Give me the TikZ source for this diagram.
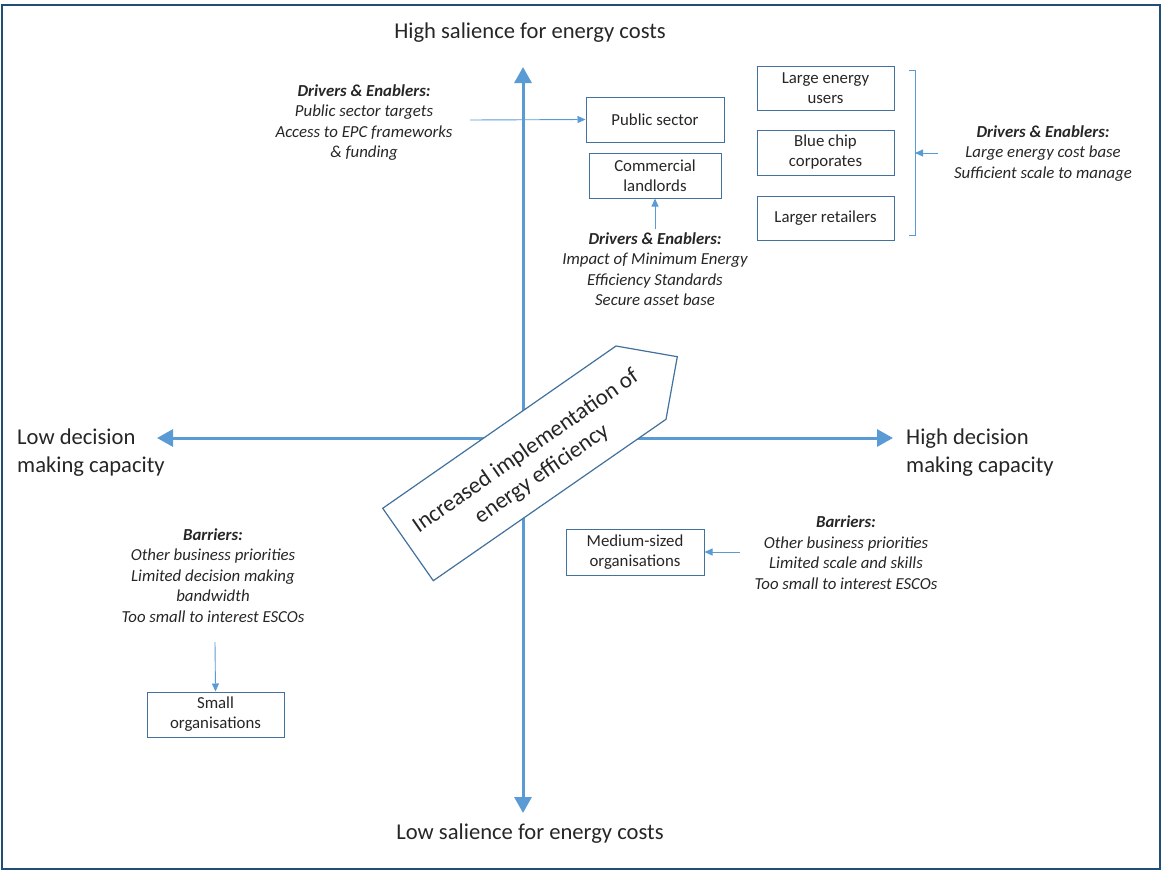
\documentclass[tikz,border=0pt]{standalone}
\usepackage{fontspec}
\setmainfont{Carlito}
\usetikzlibrary{arrows.meta}
\definecolor{axisblue}{HTML}{5B9BD5}
\definecolor{boxblue}{HTML}{41719C}
\definecolor{framecol}{HTML}{1F4E79}
\definecolor{txt}{HTML}{262626}
\begin{document}
\begin{tikzpicture}[x=1pt,y=-1pt,
 box/.style={draw=boxblue, line width=1pt, fill=white, align=center, inner sep=0pt, font=\fontsize{16.8}{20}\selectfont, text=txt},
 axislbl/.style={font=\fontsize{22.6}{28}\selectfont, text=txt, inner sep=0pt},
 note/.style={align=center, font=\fontsize{16.8}{20.5}\selectfont\itshape, text=txt, inner sep=0pt},
 axisarrow/.style={draw=axisblue, line width=3pt, {Triangle[length=16pt,width=17pt]}-{Triangle[length=16pt,width=17pt]}},
 link/.style={draw=axisblue, line width=0.9pt, -{Triangle[length=8pt,width=7pt]}},
]
\useasboundingbox (0,0) rectangle (1161,870);
\draw[framecol, line width=2pt] (2,4.5) rectangle (1159.5,868.5);

% axes
\coordinate (top) at (523,67);
\coordinate (bot) at (523,813);
\coordinate (lft) at (157,438);
\coordinate (rgt) at (893,438);
\draw[axisarrow] (bot) -- (top);
\draw[axisarrow] (lft) -- (rgt);

% axis labels
\node[axislbl] (tl) at (530,33) {High salience for energy costs};
\node[axislbl] (bl) at (530,834) {Low salience for energy costs};
\node[axislbl, anchor=west, align=left] (ll) at (17,453) {Low decision\\making capacity};
\node[axislbl, anchor=west, align=left] (rl) at (906,453) {High decision\\making capacity};

% central arrow
\draw[draw=boxblue, line width=1.2pt, fill=white] (382.7,508.3) -- (433.3,580.7) -- (666,419.3) -- (677.3,356.7) -- (616,346) -- cycle;
\node[rotate=34.8, align=center, font=\fontsize{23}{28}\selectfont, text=txt, inner sep=0pt] (ie) at (534,463) {Increased implementation of\\energy efficiency};

% boxes
\node[box, minimum width=138pt, minimum height=45pt] (ps) at (655,119.5) {Public sector};
\node[box, minimum width=132pt, minimum height=45pt] (cl) at (655,175.5) {Commercial\\landlords};
\node[box, minimum width=137pt, minimum height=44pt] (le) at (825.5,88) {Large energy\\users};
\node[box, minimum width=137pt, minimum height=45pt] (bc) at (825.5,152.5) {Blue chip\\corporates};
\node[box, minimum width=137pt, minimum height=44pt] (lr) at (825.5,218) {Larger retailers};
\node[box, minimum width=138pt, minimum height=46pt] (md) at (635,552) {Medium-sized\\organisations};
\node[box, minimum width=137pt, minimum height=45pt] (sm) at (215.5,714.5) {Small\\organisations};

% notes
\node[note] (ld) at (364,122.5) {\textbf{Drivers \& Enablers:}\\Public sector targets\\Access to EPC frameworks\\\& funding};
\node[note] (bd) at (655,269) {\textbf{Drivers \& Enablers:}\\Impact of Minimum Energy\\Efficiency Standards\\Secure asset base};
\node[note] (rd) at (1043,153.5) {\textbf{Drivers \& Enablers:}\\Large energy cost base\\Sufficient scale to manage};
\node[note] (lb) at (213,575.5) {\textbf{Barriers:}\\Other business priorities\\Limited decision making\\bandwidth\\Too small to interest ESCOs};
\node[note] (rb) at (846,552.5) {\textbf{Barriers:}\\Other business priorities\\Limited scale and skills\\Too small to interest ESCOs};

% bracket
\coordinate (brk) at (915,153);
\draw[axisblue, line width=0.9pt] (909,70) -- (915,70) -- (915,235) -- (909,235);

% connectors
\coordinate (ldout) at (470,120);
\coordinate (bdout) at (655,229);
\coordinate (rdout) at (938,153);
\coordinate (lbout) at (215,642);
\coordinate (rbout) at (740,552);
\draw[link] (ldout) -- (ps.west);
\draw[link] (bdout) -- (cl.south);
\draw[link] (rdout) -- (brk);
\draw[link] (lbout) -- (sm.north);
\draw[link] (rbout) -- (md.east);
\end{tikzpicture}
\end{document}
